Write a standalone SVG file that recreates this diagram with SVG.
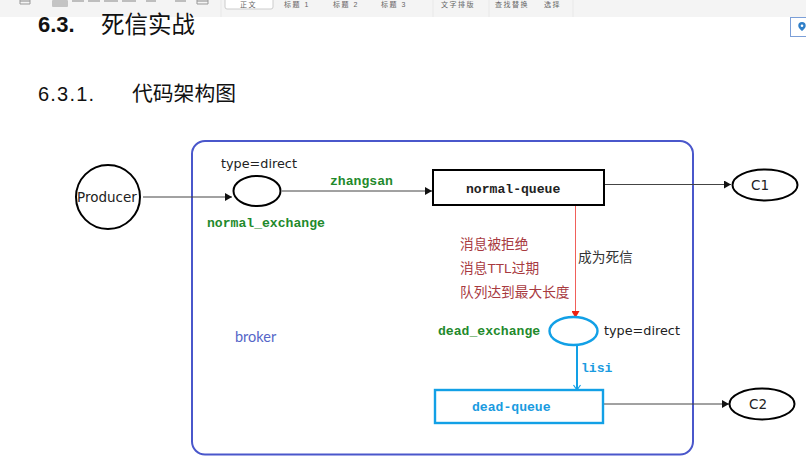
<svg xmlns="http://www.w3.org/2000/svg" width="806" height="464" viewBox="0 0 806 464">
<style>
text{font-family:"Liberation Sans","Noto Sans CJK SC",sans-serif}
.cn{font-family:"Noto Sans CJK SC","Liberation Sans",sans-serif}
.lb{font-family:"DejaVu Sans","Noto Sans CJK SC",sans-serif;font-size:13.5px;fill:#222}
.ty{font-size:12.800px}
.mono{font-family:"Liberation Mono",monospace;font-weight:bold;font-size:13.100px}
.green{fill:#1f8a2c}
.blue{fill:#1a9be0}
.red{fill:#a83a3f;font-size:13.700px}
.tb{font-size:7px;fill:#666;letter-spacing:1.500px}
.wire{fill:none;stroke:#444;stroke-width:1}
.node{fill:#fff;stroke:#000;stroke-width:2}
.cy{fill:#fff;stroke:#12a0e6;stroke-width:2.400}
</style>
<defs>
<marker id="ah" markerUnits="userSpaceOnUse" markerWidth="8" markerHeight="8" refX="7" refY="4" orient="auto"><path d="M0 0L7 4L0 8z" fill="#111"/></marker>
<marker id="ar" markerUnits="userSpaceOnUse" markerWidth="8" markerHeight="8" refX="7" refY="4" orient="auto"><path d="M0 0L7 4L0 8z" fill="#f02010"/></marker>
<marker id="ac" markerUnits="userSpaceOnUse" markerWidth="8" markerHeight="8" refX="6" refY="4" orient="auto"><path d="M1 0.500L6 4L1 7.500" fill="none" stroke="#12a0e6" stroke-width="1.200"/></marker>
</defs>
<rect width="806" height="464" fill="#fff"/>
<g id="toolbar">
<rect width="806" height="17" fill="#f4f4f4"/>
<rect x="52" y="0" width="16" height="7" rx="1" fill="#c4c4c4"/>
<path d="M20 1H30M72 1H84M88 1H100M104 1H118M122 1H136M146 1H156M175 1H186M197 1H208" stroke="#888" stroke-width="1.200" fill="none"/>
<path d="M20 0V4H30V0M197 0V4H208V0" stroke="#999" fill="none"/>
<rect x="225" y="-2" width="48" height="11" rx="2" fill="#fff" stroke="#ccc"/>
<text class="tb" x="240" y="7">正文</text>
<text class="tb" x="284" y="7">标题 1</text>
<text class="tb" x="333" y="7">标题 2</text>
<text class="tb" x="381" y="7">标题 3</text>
<text class="tb" x="441" y="7">文字排版</text>
<text class="tb" x="495" y="7">查找替换</text>
<text class="tb" x="544" y="7">选择</text>
<path d="M221 0V17M433 0V17M489 0V17M573 0V17" stroke="#e8e8e8"/>
<rect x="790.500" y="17.500" width="16" height="19" fill="#fff" stroke="#7b9fd8"/>
<path d="M802 22a3.700 3.700 0 0 1 3.700 3.700c0 2.500-3.700 5.300-3.700 5.300s-3.700-2.800-3.700-5.300A3.700 3.700 0 0 1 802 22z" fill="#2f7fc8"/>
<circle cx="802" cy="25.700" r="1.300" fill="#fff"/>
</g>
<g id="headings">
<text x="38" y="32" font-size="22" font-weight="bold" fill="#111">6.3.</text>
<text class="cn" x="101" y="33" font-size="23.500" fill="#111">死信实战</text>
<text x="38" y="101" font-size="20" letter-spacing="1.200" fill="#111">6.3.1.</text>
<text class="cn" x="132" y="101" font-size="20.800" fill="#111">代码架构图</text>
</g>
<g id="broker">
<rect x="192" y="141" width="501" height="313.500" rx="13" fill="#fff" stroke="#4a57cb" stroke-width="2"/>
<text x="235" y="342" font-size="14.500" fill="#5566c8" style="font-family:Lato,sans-serif">broker</text>
</g>
<g id="connectors">
<path class="wire" d="M143 197H232" marker-end="url(#ah)"/>
<path class="wire" d="M282 191H432" marker-end="url(#ah)"/>
<path class="wire" d="M604 184.500H731" marker-end="url(#ah)"/>
<path d="M575.500 206V318" fill="none" stroke="#f0605a" stroke-width="1" marker-end="url(#ar)"/>
<path d="M577 345V390" fill="none" stroke="#12a0e6" stroke-width="2" marker-end="url(#ac)"/>
<path class="wire" d="M604 404H729" marker-end="url(#ah)"/>
</g>
<g id="producer">
<circle cx="108" cy="197" r="32" class="node"/>
<text class="lb" x="107" y="201.500" text-anchor="middle">Producer</text>
</g>
<g id="normal_exchange">
<ellipse cx="257" cy="191" rx="23.500" ry="15" class="node"/>
<text class="lb ty" x="221" y="168">type=direct</text>
<text class="mono green" x="207" y="227">normal_exchange</text>
</g>
<text id="zhangsan" class="mono green" x="330" y="185">zhangsan</text>
<g id="normal-queue">
<rect x="433" y="170" width="171" height="35" class="node"/>
<text class="mono" x="466" y="193" fill="#222">normal-queue</text>
</g>
<g id="c1">
<ellipse cx="765" cy="185" rx="32.500" ry="15.500" class="node"/>
<text class="lb" x="760" y="190" text-anchor="middle">C1</text>
</g>
<g id="reasons">
<text class="red" x="460" y="249">消息被拒绝</text>
<text class="red" x="460" y="273">消息TTL过期</text>
<text class="red" x="460" y="297">队列达到最大长度</text>
</g>
<text id="become-dead" x="578" y="262" font-size="13.700" fill="#333">成为死信</text>
<g id="dead_exchange">
<ellipse cx="573.500" cy="331" rx="24" ry="14" class="cy"/>
<text class="mono green" x="438" y="335">dead_exchange</text>
<text class="lb ty" x="604" y="335">type=direct</text>
</g>
<text id="lisi" class="mono blue" x="581" y="372">lisi</text>
<g id="dead-queue">
<rect x="435" y="390" width="168" height="33" class="cy"/>
<text class="mono blue" x="472" y="411">dead-queue</text>
</g>
<g id="c2">
<ellipse cx="762" cy="404" rx="32.500" ry="15.500" class="node"/>
<text class="lb" x="758" y="409" text-anchor="middle">C2</text>
</g>
</svg>
